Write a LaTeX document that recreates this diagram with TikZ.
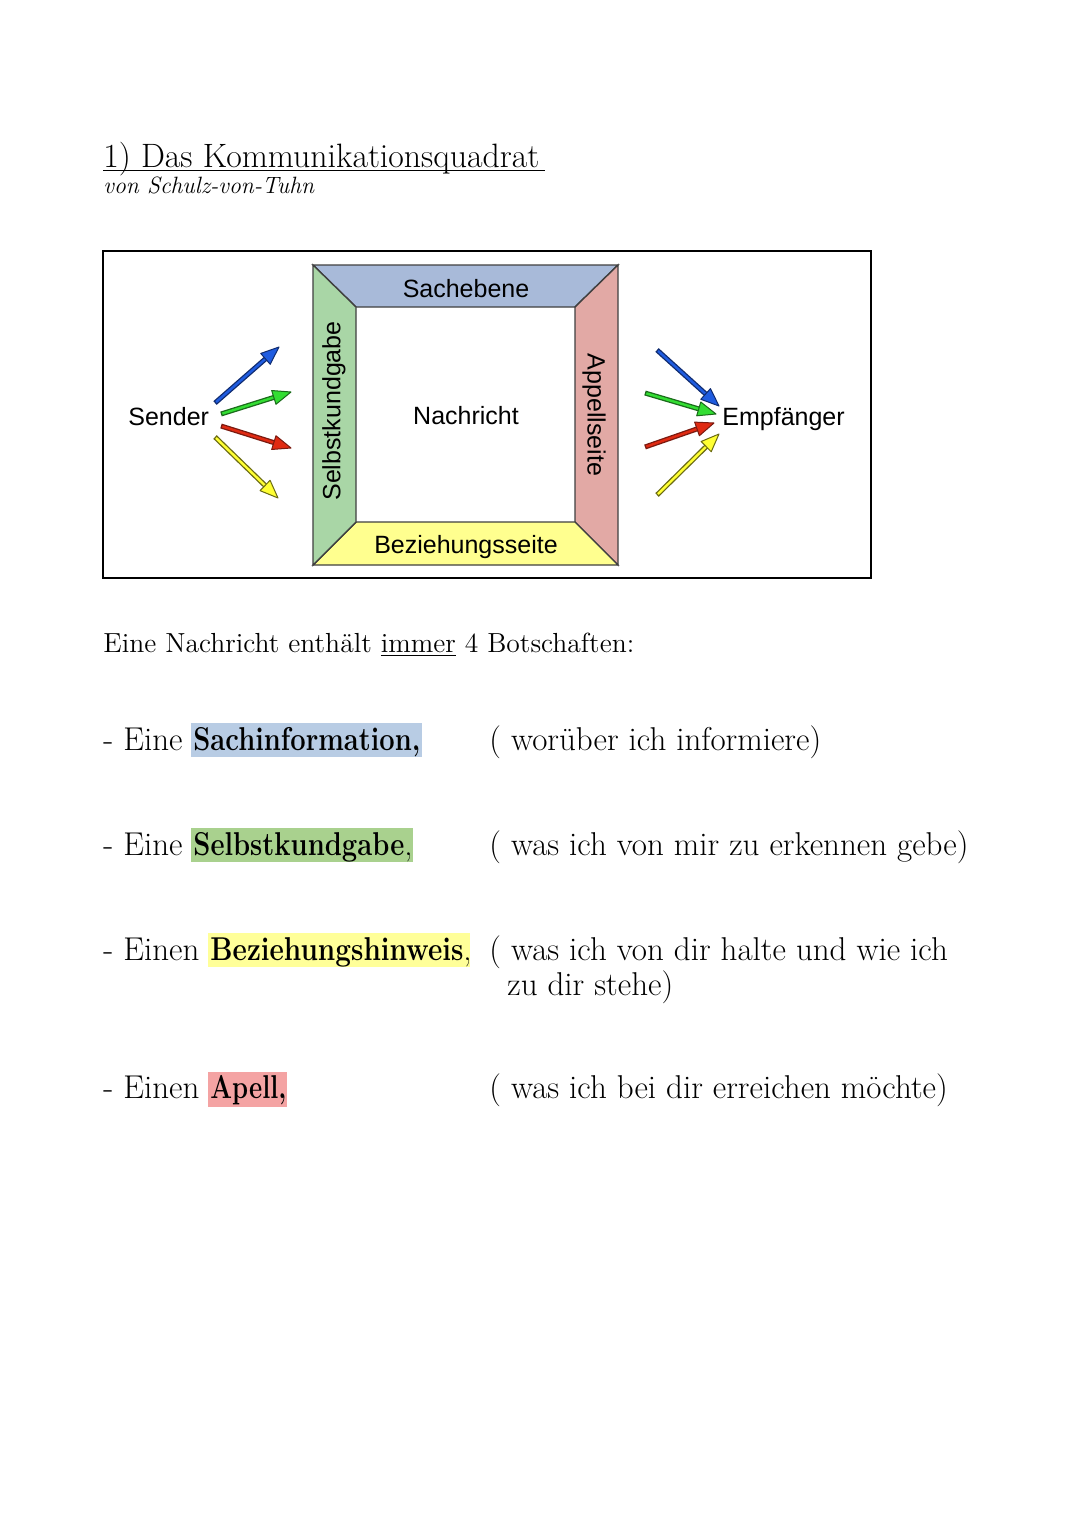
\documentclass[tikz,border=0pt]{standalone}
\usepackage{fontspec}
\usepackage{graphicx}
\usetikzlibrary{calc}
\newfontfamily\sansf{Liberation Sans}
\newcommand\fpt[1]{\fontsize{#1pt}{#1pt}\selectfont}
\definecolor{qtop}{HTML}{A8BAD9}
\definecolor{qleft}{HTML}{A9D6A6}
\definecolor{qright}{HTML}{E2A9A5}
\definecolor{qbot}{HTML}{FFFF8F}
\definecolor{hblue}{HTML}{B8CCE4}
\definecolor{hgreen}{HTML}{A9D18E}
\definecolor{hyellow}{HTML}{FFFF99}
\definecolor{hred}{HTML}{F4A3A3}
\definecolor{abf}{HTML}{1F5CE0}
\definecolor{abo}{HTML}{102C70}
\definecolor{agf}{HTML}{33DD33}
\definecolor{ago}{HTML}{1B6B1B}
\definecolor{arf}{HTML}{E02A12}
\definecolor{aro}{HTML}{7A1A10}
\definecolor{ayf}{HTML}{FFFF33}
\definecolor{ayo}{HTML}{6B6B12}
\newcommand\colarrow[4]{%
  \draw[#4, line width=2.5pt, shorten >=8pt] (#1) -- (#2);
  \draw[#3, line width=1.2pt, shorten >=8pt, shorten <=0.7pt] (#1) -- (#2);
  \coordinate (hb) at ($(#2)!9pt!(#1)$);
  \filldraw[fill=#3, draw=#4, line width=0.5pt, line join=round]
    (#2) -- ($(hb)!3.6pt!90:(#1)$) -- ($(hb)!3.6pt!-90:(#1)$) -- cycle;
}
\begin{document}
\begin{tikzpicture}[x=0.5pt,y=-0.5pt,
  txt/.style={inner sep=0pt, font=\fpt{16.5}},
  sanslbl/.style={inner sep=0pt, font=\sansf\fpt{12.5}},
  quadedge/.style={draw=black!75, line width=0.7pt, line join=miter}]
\fill[white] (0,0) rectangle (1080,1527);
\useasboundingbox (0,0) rectangle (1080,1527);

% title
\node[inner sep=0pt, anchor=base west, font=\fpt{16.9}] (title) at (103,167) {1) Das Kommunikationsquadrat};
\draw[line width=0.7pt] (103,170.5) -- (545,170.5);
\node[inner sep=0pt, anchor=base west, font=\fpt{11.8}\itshape] (sub) at (103,193) {von Schulz-von-Tuhn};

% diagram frame
\draw[line width=0.75pt] (103,251) rectangle (871,578);

% square
\coordinate (o1) at (313,265); \coordinate (o2) at (618,265);
\coordinate (o3) at (618,565); \coordinate (o4) at (313,565);
\coordinate (i1) at (356,307); \coordinate (i2) at (575,307);
\coordinate (i3) at (575,522); \coordinate (i4) at (356,522);
\filldraw[fill=qtop, quadedge] (o1) -- (o2) -- (i2) -- (i1) -- cycle;
\filldraw[fill=qright, quadedge] (o2) -- (o3) -- (i3) -- (i2) -- cycle;
\filldraw[fill=qbot, quadedge] (o3) -- (o4) -- (i4) -- (i3) -- cycle;
\filldraw[fill=qleft, quadedge] (o4) -- (o1) -- (i1) -- (i4) -- cycle;

\node[sanslbl] (sach) at (466,289) {Sachebene};
\node[sanslbl] (nach) at (466,416) {Nachricht};
\node[sanslbl, anchor=base] (bez) at (466,553) {Beziehungsseite};
\node[sanslbl, rotate=90] (selbst) at (334,411) {Selbstkundgabe};
\node[sanslbl, rotate=-90] (app) at (594,415) {Appellseite};

\node[sanslbl, anchor=base west] (sender) at (128,425) {Sender};
\node[sanslbl, anchor=base west] (empf) at (722,425) {Empfänger};

% sender arrows
\coordinate (sb1) at (215,403); \coordinate (se1) at (279,347);
\coordinate (sb2) at (221,414); \coordinate (se2) at (291,392);
\coordinate (sb3) at (221,426); \coordinate (se3) at (291,448);
\coordinate (sb4) at (215,437); \coordinate (se4) at (278,498);
\colarrow{sb1}{se1}{abf}{abo}
\colarrow{sb2}{se2}{agf}{ago}
\colarrow{sb3}{se3}{arf}{aro}
\colarrow{sb4}{se4}{ayf}{ayo}

% receiver arrows
\coordinate (eb1) at (657,350); \coordinate (ee1) at (719,406);
\coordinate (eb2) at (645,393); \coordinate (ee2) at (716,414);
\coordinate (eb3) at (645,447); \coordinate (ee3) at (714,423);
\coordinate (eb4) at (657,495); \coordinate (ee4) at (719,434);
\colarrow{eb1}{ee1}{abf}{abo}
\colarrow{eb2}{ee2}{agf}{ago}
\colarrow{eb3}{ee3}{arf}{aro}
\colarrow{eb4}{ee4}{ayf}{ayo}

% intro sentence
\node[inner sep=0pt, anchor=base west, font=\fpt{13.8}] (intro) at (103,652)
  {Eine Nachricht enthält \underline{immer} 4 Botschaften:};

% highlights
\fill[hblue] (191,723) rectangle (422,757);
\fill[hgreen] (191,828) rectangle (413,862);
\fill[hyellow] (208,933) rectangle (470,967);
\fill[hred] (208,1072) rectangle (287,1107);

% items
\node[txt, anchor=base west] (l1) at (103,750) {- Eine};
\node[txt, anchor=base west] (b1) at (193,750) {\resizebox{113.5pt}{\height}{\bfseries Sachinformation,}};
\node[txt, anchor=base west] (r1) at (489,750) {( worüber ich informiere)};

\node[txt, anchor=base west] (l2) at (103,855) {- Eine};
\node[txt, anchor=base west] (b2) at (193,855) {\resizebox{105.5pt}{\height}{\bfseries Selbstkundgabe},};
\node[txt, anchor=base west] (r2) at (489,855) {( was ich von mir zu erkennen gebe)};

\node[txt, anchor=base west] (l3) at (103,960) {- Einen};
\node[txt, anchor=base west] (b3) at (210,960) {\resizebox{126.5pt}{\height}{\bfseries Beziehungshinweis},};
\node[txt, anchor=base west] (r3) at (489,960) {( was ich von dir halte und wie ich};
\node[txt, anchor=base west] (r3b) at (507,995) {zu dir stehe)};

\node[txt, anchor=base west] (l4) at (103,1098) {- Einen};
\node[txt, anchor=base west] (b4) at (210,1098) {\resizebox{38pt}{\height}{\bfseries Apell,}};
\node[txt, anchor=base west] (r4) at (489,1098) {( was ich bei dir erreichen möchte)};
\end{tikzpicture}
\end{document}
